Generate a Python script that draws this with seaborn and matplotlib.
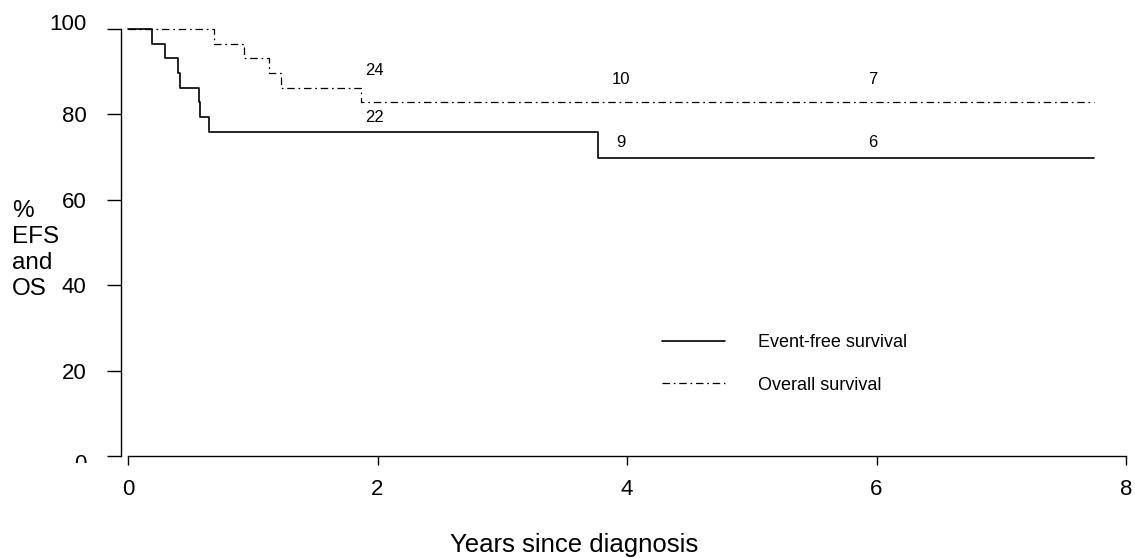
import numpy as np
import pandas as pd
import matplotlib
matplotlib.use("Agg")
import matplotlib.pyplot as plt
import matplotlib.transforms as mtransforms
import seaborn as sns

# Kaplan-Meier step data (years, % surviving)
efs_time = [0, 0.19, 0.30, 0.40, 0.42, 0.57, 0.58, 0.65, 3.77, 7.74]
efs_surv = [100, 96.6, 93.1, 89.7, 86.2, 82.8, 79.3, 75.9, 69.8, 69.8]
os_time = [0, 0.69, 0.93, 1.13, 1.23, 1.87, 7.74]
os_surv = [100, 96.6, 93.1, 89.7, 86.2, 82.8, 82.8]

# numbers at risk written above the curves
risk_text = ["24", "22", "10", "9", "7", "6"]
risk_x = [1.975, 1.975, 3.955, 3.955, 5.97, 5.97]
risk_y = [90.2, 79.2, 88.1, 73.5, 88.1, 73.5]

x_ticks = [0, 2, 4, 6, 8]
y_ticks = [0, 20, 40, 60, 80, 100]
series_names = ["Event-free survival", "Overall survival"]

sns.set_theme(style="ticks")
plt.rcParams["font.family"] = ["Liberation Sans", "DejaVu Sans"]
plt.rcParams["text.color"] = "black"

W, H = 1135, 558
fig = plt.figure(figsize=(W / 100, H / 100), dpi=100)
ax = fig.add_axes([128 / W, 1 - 456 / H, 998 / W, 427 / H])

efs = pd.DataFrame({"t": efs_time, "s": efs_surv})
ovs = pd.DataFrame({"t": os_time, "s": os_surv})

sns.lineplot(data=efs, x="t", y="s", ax=ax, estimator=None, drawstyle="steps-post",
             color="black", linewidth=1.2, clip_on=False, label=series_names[0])
sns.lineplot(data=ovs, x="t", y="s", ax=ax, estimator=None, drawstyle="steps-post",
             color="black", linewidth=0.9, clip_on=False, label=series_names[1],
             linestyle=(0, (6, 3, 1.4, 3)))

for txt, tx, ty in zip(risk_text, risk_x, risk_y):
    ax.text(tx, ty, txt, ha="center", va="center", fontsize=12)

ax.set_xlim(0, 8)
ax.set_ylim(0, 100)
ax.set_xticks(x_ticks)
ax.set_yticks(y_ticks)
ax.set_xlabel("")
ax.set_ylabel("")

for side in ["top", "right"]:
    ax.spines[side].set_visible(False)
ax.spines["left"].set_position(("outward", 5))
ax.spines["left"].set_bounds(0, 100)
ax.spines["bottom"].set_bounds(0, 8)
for side in ["left", "bottom"]:
    ax.spines[side].set_linewidth(1.0)
    ax.spines[side].set_color("black")

ax.tick_params(axis="y", length=10, width=1.0, pad=15, labelsize=16, colors="black")
ax.tick_params(axis="x", length=6.5, width=1.0, pad=10, labelsize=16, colors="black")

# the top label sits a little high, the bottom one a little low (and gets cut off)
yt = ax.yaxis.get_major_ticks()
for val, tick in zip(y_ticks, yt):
    lab = tick.label1
    if val == 100:
        lab.set_transform(lab.get_transform() + mtransforms.Affine2D().translate(0, 7))
    elif val == 0:
        lab.set_transform(lab.get_transform() + mtransforms.Affine2D().translate(0, -6))
        clip = matplotlib.patches.Rectangle((0, 1 - 463 / H), 1, 463 / H,
                                            transform=fig.transFigure, visible=False)
        fig.add_artist(clip)
        lab.set_clip_path(clip)

leg = ax.legend(loc="upper left", bbox_to_anchor=(662 / W, 1 - 334 / H),
                bbox_transform=fig.transFigure, frameon=False, fontsize=13,
                handlelength=3.5, handletextpad=1.8, labelspacing=1.42,
                borderpad=0, borderaxespad=0)

fig.text(12 / W, 1 - 250 / H, "%\nEFS\nand\nOS", ha="left", va="center",
         fontsize=17.5, linespacing=1.25)
fig.text(574 / W, 1 - 552 / H, "Years since diagnosis", ha="center",
         va="baseline", fontsize=18.5)

fig.savefig("out.png", dpi=100)
